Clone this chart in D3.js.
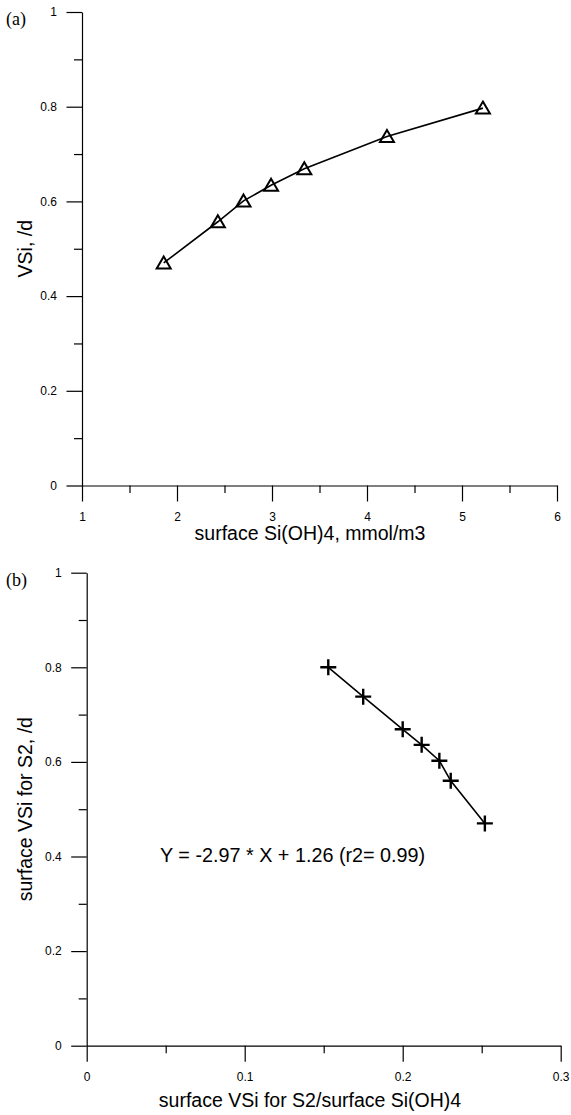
<!DOCTYPE html>
<html>
<head>
<meta charset="utf-8">
<script src="https://cdn.jsdelivr.net/npm/d3@7"></script>
<style>
  body { margin: 0; background: #fff; }
  svg { display: block; font-family: "Liberation Sans", Arial, sans-serif; }
  .tick text { font-size: 12px; font-family: "Liberation Sans", Arial, sans-serif; fill: #000; }
  .axis path, .axis line { stroke: #000; stroke-width: 1.2; }
</style>
</head>
<body>
<div id="chart"></div>
<script>
// Panel (a): surface Si(OH)4 vs VSi
const siOH4 = [1.86, 2.43, 2.70, 2.99, 3.34, 4.21, 5.22];
const vsiA  = [0.470, 0.557, 0.601, 0.634, 0.669, 0.737, 0.797];
const xTicksA = [1, 2, 3, 4, 5, 6];
const xMinorA = [1.5, 2.5, 3.5, 4.5, 5.5];

// Panel (b): VSi / Si(OH)4 ratio vs VSi
const ratioB = [0.1529, 0.175, 0.200, 0.212, 0.2232, 0.2304, 0.252];
const vsiB   = [0.800, 0.738, 0.669, 0.636, 0.6025, 0.560, 0.470];
const xTicksB = [0, 0.1, 0.2, 0.3];
const xMinorB = [0.05, 0.15, 0.25];

const yTicks = [0, 0.2, 0.4, 0.6, 0.8, 1];
const yMinor = [0.1, 0.3, 0.5, 0.7, 0.9];

const W = 571, H = 1115;
const svg = d3.select('#chart').append('svg')
    .attr('width', W)
    .attr('height', H);

const fmt = d3.format('~g');

function drawPanel(opt) {
    const x = d3.scaleLinear().domain(opt.xDomain).range(opt.xRange);
    const y = d3.scaleLinear().domain([0, 1]).range(opt.yRange);
    const g = svg.append('g');

    // y axis, major + minor ticks
    g.append('g')
        .attr('class', 'axis')
        .attr('transform', `translate(${opt.xRange[0]},0)`)
        .call(d3.axisLeft(y).tickValues(yTicks).tickFormat(fmt)
            .tickSize(15.5).tickSizeOuter(0).tickPadding(opt.yPad));
    g.append('g')
        .attr('class', 'axis')
        .attr('transform', `translate(${opt.xRange[0]},0)`)
        .call(d3.axisLeft(y).tickValues(yMinor).tickFormat('')
            .tickSize(8).tickSizeOuter(0))
        .select('.domain').remove();

    // x axis, ticks hang below
    const xa = g.append('g')
        .attr('class', 'axis')
        .attr('transform', `translate(0,${opt.yRange[0]})`)
        .call(d3.axisBottom(x).tickValues(opt.xTicks).tickFormat(fmt)
            .tickSize(16).tickSizeOuter(0));
    xa.selectAll('.tick text')
        .attr('y', opt.xLabBase - opt.yRange[0])
        .attr('dy', 0);
    g.append('g')
        .attr('class', 'axis')
        .attr('transform', `translate(0,${opt.yRange[0]})`)
        .call(d3.axisBottom(x).tickValues(opt.xMinor).tickFormat('')
            .tickSize(7.5).tickSizeOuter(0))
        .select('.domain').remove();

    // axis titles
    g.append('text')
        .attr('x', 310)
        .attr('y', opt.xTitleBase)
        .attr('text-anchor', 'middle')
        .attr('font-size', '19.5px')
        .text(opt.xTitle);
    const yc = (opt.yRange[0] + opt.yRange[1]) / 2;
    g.append('text')
        .attr('transform', `translate(32,${yc}) rotate(-90)`)
        .attr('text-anchor', 'middle')
        .attr('font-size', '19.5px')
        .text(opt.yTitle);

    // panel letter
    g.append('text')
        .attr('x', 6)
        .attr('y', opt.yRange[1] + 13)
        .attr('font-family', '"Liberation Serif", "Times New Roman", serif')
        .attr('font-size', '18px')
        .text(opt.letter);

    const pts = opt.xs.map((v, i) => [x(v), y(opt.ys[i])]);
    g.append('path')
        .attr('d', d3.line()(pts))
        .attr('fill', 'none')
        .attr('stroke', '#000')
        .attr('stroke-width', 1.6);

    return { g, pts, x, y };
}

const a = drawPanel({
    xDomain: [1, 6], xRange: [82, 557], yRange: [485.5, 12],
    xTicks: xTicksA, xMinor: xMinorA, xs: siOH4, ys: vsiA,
    yPad: 9.5, xLabBase: 521,
    xTitle: 'surface Si(OH)4, mmol/m3', xTitleBase: 540,
    yTitle: 'VSi, /d', letter: '(a)'
});

// triangle markers
a.g.selectAll('.tri')
    .data(a.pts)
    .enter()
    .append('path')
    .attr('d', d => `M${d[0]},${d[1] - 6.5} L${d[0] + 7},${d[1] + 5.5} L${d[0] - 7},${d[1] + 5.5} Z`)
    .attr('fill', 'none')
    .attr('stroke', '#000')
    .attr('stroke-width', 2);

const b = drawPanel({
    xDomain: [0, 0.3], xRange: [86.7, 560.7], yRange: [1045.7, 572.7],
    xTicks: xTicksB, xMinor: xMinorB, xs: ratioB, ys: vsiB,
    yPad: 9.5, xLabBase: 1080.7,
    xTitle: 'surface VSi for S2/surface Si(OH)4', xTitleBase: 1106.7,
    yTitle: 'surface VSi for S2, /d', letter: '(b)'
});

// plus markers
b.g.selectAll('.plus')
    .data(b.pts)
    .enter()
    .append('path')
    .attr('d', d => `M${d[0] - 8},${d[1]} H${d[0] + 8} M${d[0]},${d[1] - 8} V${d[1] + 8}`)
    .attr('stroke', '#000')
    .attr('stroke-width', 2.4);

// regression note
b.g.append('text')
    .attr('x', 160)
    .attr('y', 862)
    .attr('font-size', '19.8px')
    .text('Y = -2.97 * X + 1.26 (r2= 0.99)');
</script>
</body>
</html>
